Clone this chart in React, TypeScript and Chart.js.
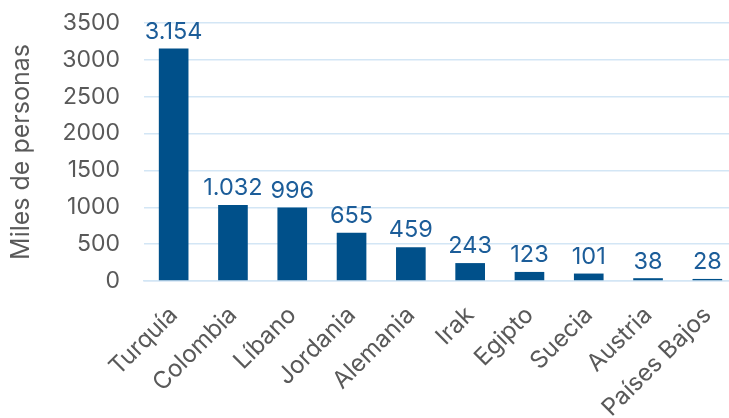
import React, { useEffect, useRef } from "react";
import { Chart, registerables } from "chart.js";

Chart.register(...registerables);

const categories = ["Turquía", "Colombia", "Líbano", "Jordania", "Alemania", "Irak", "Egipto", "Suecia", "Austria", "Países Bajos"];
const values = [3154, 1032, 996, 655, 459, 243, 123, 101, 38, 28];
const yTicks = [0, 500, 1000, 1500, 2000, 2500, 3000, 3500];
const yTitle = "Miles de personas";

const FONT = "Inter, 'Open Sans', sans-serif";
const BAR = "#00508A";
const LABEL = "#1C5D99";
const GRID = "#D3E6F5";
const TEXT = "#595959";

function fmt(v: number): string {
  const s = String(Math.round(v));
  return s.replace(/\B(?=(\d{3})+(?!\d))/g, ".");
}

const valueLabels = {
  id: "valueLabels",
  afterDatasetsDraw(chart: any) {
    const ctx = chart.ctx;
    const meta = chart.getDatasetMeta(0);
    ctx.save();
    ctx.font = `23.5px ${FONT}`;
    ctx.fillStyle = LABEL;
    ctx.textAlign = "center";
    ctx.textBaseline = "bottom";
    meta.data.forEach((el: any, i: number) => {
      ctx.fillText(fmt(values[i]), el.x, el.y - 5);
    });
    ctx.restore();
  },
};

export default function App() {
  const ref = useRef<HTMLCanvasElement | null>(null);
  useEffect(() => {
    document.body.style.margin = "0";
    document.body.style.overflow = "hidden";
    const chart = new Chart(ref.current as HTMLCanvasElement, {
      type: "bar",
      data: {
        labels: categories,
        datasets: [
          {
            data: values,
            backgroundColor: BAR,
            barPercentage: 0.5,
            categoryPercentage: 1,
          },
        ],
      },
      options: {
        animation: false,
        responsive: false,
        devicePixelRatio: 1,
        layout: { padding: { top: 23, right: 0, left: 0, bottom: 0 } },
        plugins: { legend: { display: false }, tooltip: { enabled: false } },
        scales: {
          x: {
            grid: { display: false, drawTicks: false },
            border: { display: true, color: GRID, width: 1.5 },
            ticks: {
              color: TEXT,
              font: { family: FONT, size: 24 },
              maxRotation: 45,
              minRotation: 45,
              padding: 20,
              autoSkip: false,
            },
            afterFit: (s: any) => {
              s.height = 137;
              s.paddingTop = 0;
              s.paddingBottom = 0;
              s.paddingLeft = 0;
              s.paddingRight = 0;
            },
          },
          y: {
            min: 0,
            max: 3500,
            afterBuildTicks: (s: any) => {
              s.ticks = yTicks.map((v) => ({ value: v }));
            },
            grid: { color: GRID, lineWidth: 1.5, drawTicks: false },
            border: { display: false },
            ticks: {
              color: TEXT,
              font: { family: FONT, size: 23 },
              padding: 24,
              callback: (v: any) => String(v),
            },
            title: {
              display: true,
              text: yTitle,
              color: TEXT,
              font: { family: FONT, size: 25 },
              padding: { top: 6, bottom: 0 },
            },
            afterFit: (s: any) => {
              s.width = 144;
              s.paddingTop = 0;
              s.paddingBottom = 0;
            },
          },
        },
      },
      plugins: [valueLabels],
    });
    return () => chart.destroy();
  }, []);
  return (
    <div style={{ position: "absolute", left: 0, top: 0, width: 729, height: 418, overflow: "hidden", background: "#fff" }}>
      <canvas ref={ref} width={737} height={418} style={{ width: 737, height: 418, display: "block" }} />
    </div>
  );
}
